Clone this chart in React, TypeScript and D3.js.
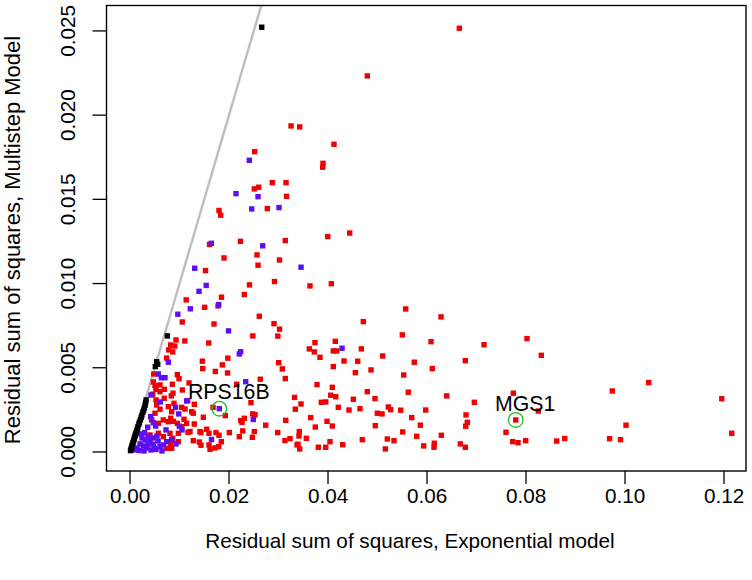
import React from "react";
import * as d3 from "d3";

// ---- data (x: RSS exponential model, y: RSS multistep model) ----
const redPoints: [number, number][] = [
  [0.06653,0.02516],[0.04794,0.02233],[0.03253,0.01936],[0.03428,0.0193],[0.04121,0.01827],[0.03899,0.01714],
  [0.03893,0.01691],[0.02875,0.01599],[0.03152,0.01599],[0.03162,0.01518],[0.02774,0.01445],[0.03137,0.01255],
  [0.03994,0.01279],[0.04438,0.013],[0.02519,0.01783],[0.02511,0.01562],[0.026,0.01572],[0.01798,0.01434],
  [0.01832,0.01406],[0.02232,0.01251],[0.01606,0.01232],[0.01899,0.01152],[0.02566,0.0117],[0.02586,0.01109],
  [0.0302,0.0114],[0.01525,0.01077],[0.02414,0.00992],[0.02919,0.01012],[0.01848,0.00919],[0.02309,0.00935],
  [0.01135,0.00903],[0.01509,0.00859],[0.01778,0.00867],[0.02612,0.00806],[0.01055,0.00772],[0.01697,0.0076],
  [0.02909,0.00762],[0.0302,0.00729],[0.02481,0.00689],[0.02986,0.00688],[0.00929,0.00665],[0.01107,0.00659],
  [0.00822,0.00635],[0.00903,0.00629],[0.0159,0.00647],[0.00782,0.00606],[0.00863,0.00594],[0.00741,0.00558],
  [0.01976,0.00557],[0.01461,0.00539],[0.01865,0.00517],[0.01469,0.00495],[0.01723,0.00478],[0.0197,0.00469],
  [0.00479,0.00463],[0.00956,0.00459],[0.0099,0.00435],[0.03077,0.00493],[0.03004,0.0053],[0.03137,0.00436],
  [0.00471,0.00416],[0.00505,0.00394],[0.00693,0.00372],[0.00855,0.00402],[0.01057,0.00368],[0.02632,0.00432],
  [0.00869,0.00349],[0.03323,0.00324],[0.00459,0.00343],[0.00525,0.00309],[0.00693,0.00319],[0.00834,0.00333],
  [0.00889,0.00289],[0.01166,0.00305],[0.01044,0.00265],[0.01299,0.00283],[0.01677,0.00265],[0.01925,0.00216],
  [0.02309,0.002],[0.02263,0.00176],[0.02236,0.00186],[0.02479,0.00226],[0.02525,0.00221],[0.02741,0.00159],
  [0.03145,0.00188],[0.03339,0.00254],[0.01091,0.00194],[0.00822,0.002],[0.00875,0.00182],[0.01172,0.00117],
  [0.01299,0.00166],[0.01414,0.00121],[0.01434,0.00115],[0.01549,0.00135],[0.01596,0.00111],[0.01737,0.00115],
  [0.01798,0.00099],[0.02006,0.00115],[0.02277,0.00125],[0.02511,0.00121],[0.02984,0.00115],[0.014,0.00059],
  [0.01279,0.00067],[0.01596,0.00042],[0.01616,0.00016],[0.01717,0.00024],[0.01792,0.00031],[0.01844,0.00061],
  [0.01434,0.0004],[0.00863,0.00081],[0.00822,0.00052],[0.03131,0.00068],[0.03232,0.00079],[0.0342,0.00121],
  [0.03414,0.00095],[0.02156,0.00402],[0.02444,0.00293],[0.01192,0.0041],[0.01111,0.00255],[0.01279,0.0023],
  [0.01481,0.00206],[0.02208,0.00091],[0.02471,0.00087],[0.00956,0.0017],[0.03374,0.00042],
  [0.03636,0.00986],[0.04067,0.00999],[0.0557,0.00849],[0.06283,0.00802],[0.04713,0.00774],[0.05501,0.00695],
  [0.06081,0.00655],[0.07152,0.00637],[0.03737,0.00649],[0.03622,0.00612],[0.03723,0.00594],[0.04147,0.00657],
  [0.04107,0.006],[0.04176,0.006],[0.04673,0.00612],[0.03838,0.00562],[0.04323,0.0054],[0.046,0.00539],
  [0.05105,0.0057],[0.05743,0.00533],[0.06774,0.00542],[0.04107,0.00507],[0.06107,0.00495],[0.04552,0.00471],
  [0.04869,0.00487],[0.05529,0.00457],[0.03778,0.004],[0.04087,0.00384],[0.04794,0.00358],[0.05622,0.00355],
  [0.06398,0.00333],[0.06956,0.00295],[0.07743,0.00349],[0.04055,0.00337],[0.04156,0.00328],[0.03865,0.00295],
  [0.03954,0.00297],[0.04511,0.00313],[0.04949,0.00317],[0.03455,0.00285],[0.04208,0.00265],[0.04424,0.00249],
  [0.04646,0.00257],[0.05218,0.00267],[0.05267,0.00251],[0.05469,0.00248],[0.05974,0.00249],[0.04996,0.0023],
  [0.05091,0.00226],[0.03651,0.00204],[0.0398,0.00182],[0.04087,0.00154],[0.03743,0.00148],[0.05691,0.00204],
  [0.06788,0.0022],[0.06814,0.00176],[0.06782,0.00153],[0.04956,0.00156],[0.05865,0.00159],[0.05509,0.00119],
  [0.06289,0.00099],[0.05792,0.00093],[0.07596,0.00117],[0.03562,0.00081],[0.03394,0.00046],[0.03428,0.00018],
  [0.03804,0.00028],[0.03954,0.00028],[0.0404,0.00061],[0.04297,0.00043],[0.04693,0.00073],[0.05198,0.00077],
  [0.05333,0.00067],[0.05158,0.00018],[0.05933,0.00036],[0.06147,0.00052],[0.06141,0.00028],[0.06673,0.00048],
  [0.06774,0.00028],[0.07731,0.00061],[0.07838,0.00055],[0.07994,0.00067],[0.0802,0.00673],[0.08309,0.00574],
  [0.08248,0.00243],[0.07792,0.0019],[0.0862,0.00065],[0.08782,0.0008],[0.09743,0.00362],[0.10479,0.00412],
  [0.1002,0.00159],[0.09687,0.00079],[0.09909,0.00073],[0.11954,0.00316],[0.12156,0.00111],
  [0.00606,0.00398],[0.00525,0.00372],[0.00606,0.00358],[0.00539,0.00279],[0.00505,0.0023],[0.00438,0.0019],
  [0.00572,0.0017],[0.00673,0.0019],[0.00774,0.0018],[0.00673,0.00091],[0.00572,0.00111],[0.00404,0.00101],
  [0.00976,0.00061],[0.00741,0.00022],[0.00842,0.00022],[0.01044,0.0015],[0.01145,0.0017],[0.01212,0.00121],
  [0.00976,0.00111],[0.00808,0.00111],[0.00774,0.00269],[0.00842,0.00239],[0.01246,0.00239],[0.00606,0.00254],
];

const purplePoints: [number, number][] = [
  [0.0241,0.01732],[0.02141,0.01534],[0.02586,0.01516],[0.02459,0.01443],[0.0301,0.01451],[0.01642,0.01239],
  [0.02681,0.01224],[0.03455,0.01097],[0.01307,0.01091],[0.01539,0.00989],[0.01394,0.00954],[0.01218,0.0085],
  [0.01792,0.00875],[0.00966,0.00818],[0.0199,0.00719],[0.04283,0.00616],[0.02208,0.00582],[0.02236,0.00595],
  [0.00774,0.00533],[0.00572,0.00463],[0.00632,0.00441],[0.00707,0.00441],[0.02337,0.00417],[0.00424,0.00338],
  [0.00612,0.00297],[0.01145,0.00303],[0.00919,0.00265],[0.01804,0.00257],[0.02491,0.00193],[0.00984,0.00226],
  [0.00996,0.00153],[0.01051,0.00131],[0.01646,0.00074],[0.00929,0.00048],[0.00673,0.00042],[0.00491,0.00022],
  [0.00471,0.00046],[0.00418,0.0021],[0.00471,0.00174],[0.00519,0.00154],[0.00358,0.00147],[0.00297,0.00115],
  [0.00727,0.00131],[0.00842,0.00075],[0.00741,0.00061],[0.00242,0.00083],[0.00303,0.00071],[0.00364,0.00089],
  [0.00404,0.00065],[0.00202,0.00048],[0.00273,0.00036],[0.00343,0.00024],[0.00424,0.00012],[0.00525,0.00015],
  [0.00606,0.00033],[0.00141,0.00024],[0.00182,0.00009],[0.00283,0.00006],[0.00566,0.00065],[0.00111,0.00012],
  [0.00465,0.00083],[0.00374,0.00048],[0.00222,0.00107],[0.00646,0.00006],[0.00545,0.00095],
];

const blackPoints: [number, number][] = [
  [0.0001,0.00008],[0.0002,0.00016],[0.0003,0.00026],[0.0004,0.00036],[0.0005,0.00045],[0.0006,0.00055],
  [0.0007,0.00063],[0.0008,0.00074],[0.0009,0.00083],[0.001,0.00094],[0.0011,0.00104],[0.0012,0.00114],
  [0.00135,0.00126],[0.0015,0.00138],[0.0016,0.00151],[0.0018,0.00165],[0.0019,0.00177],[0.0021,0.00191],
  [0.00225,0.00205],[0.0024,0.00219],[0.0026,0.00236],[0.00275,0.00248],[0.0029,0.00262],[0.00305,0.00278],
  [0.00315,0.00293],[0.00325,0.00309],[0.00511,0.00507],[0.00539,0.00536],[0.0056,0.00521],[0.00754,0.00689],
  [0.02661,0.02522],
];

const labeledGenes = [
  { name: "RPS16B", x: 0.01804, y: 0.00257 },
  { name: "MGS1", x: 0.07792, y: 0.0019 },
];

const xTicks = [0, 0.02, 0.04, 0.06, 0.08, 0.1, 0.12];
const yTicks = [0, 0.005, 0.01, 0.015, 0.02, 0.025];
const xTitle = "Residual sum of squares, Exponential model";
const yTitle = "Residual sum of squares, Multistep Model";

// ---- layout ----
const W = 752, H = 580;
const box = { left: 106.5, right: 746, top: 5.5, bottom: 471 };
const FONT = "'Liberation Sans', Arial, Helvetica, sans-serif";
const FS = 20.7;

export default function App() {
  const x = d3.scaleLinear().domain([-0.00475, 0.12444]).range([box.left, box.right]);
  const y = d3.scaleLinear().domain([-0.00113, 0.02651]).range([box.bottom, box.top]);
  const sq = 5.4;
  const fmtX = d3.format(".2f");
  const fmtY = d3.format(".3f");
  const lineGen = d3.line<[number, number]>().x(d => x(d[0])).y(d => y(d[1]));
  const diag: [number, number][] = [[0, 0], [0.03, 0.03]];

  const squares = (pts: [number, number][], color: string, key: string) =>
    pts.map((p, i) => (
      <rect key={key + i} x={x(p[0]) - sq / 2} y={y(p[1]) - sq / 2} width={sq} height={sq} fill={color} />
    ));

  return (
    <svg width={W} height={H} style={{ position: "absolute", left: 0, top: 0, background: "#fff" }}
      fontFamily={FONT}>
      <defs>
        <clipPath id="plotclip">
          <rect x={box.left} y={box.top} width={box.right - box.left} height={box.bottom - box.top} />
        </clipPath>
      </defs>
      <rect x={0} y={0} width={W} height={H} fill="#fff" />
      <g clipPath="url(#plotclip)">
        <path d={lineGen(diag) || ""} stroke="#BEBEBE" strokeWidth={2.4} fill="none" />
        {squares(redPoints, "#F00000", "r")}
        {squares(purplePoints, "#5C0FF5", "p")}
        {squares(blackPoints, "#000", "b")}
        {labeledGenes.map(g => (
          <circle key={"c" + g.name} cx={x(g.x)} cy={y(g.y)} r={7.3} fill="none" stroke="#1FBF1F" strokeWidth={1.3} />
        ))}
      </g>
      {labeledGenes.map(g => (
        <text key={"t" + g.name} x={x(g.x) + 9.5} y={y(g.y) - 9.2} textAnchor="middle" fontSize={21.3} fill="#000">
          {g.name}
        </text>
      ))}
      <rect x={box.left} y={box.top} width={box.right - box.left} height={box.bottom - box.top}
        fill="none" stroke="#000" strokeWidth={1.4} />
      {xTicks.map(t => (
        <g key={"xt" + t}>
          <line x1={x(t)} x2={x(t)} y1={box.bottom} y2={box.bottom + 13} stroke="#000" strokeWidth={1.3} />
          <text x={x(t)} y={box.bottom + 32} textAnchor="middle" fontSize={FS}>{fmtX(t)}</text>
        </g>
      ))}
      {yTicks.map(t => (
        <g key={"yt" + t}>
          <line x1={box.left - 14} x2={box.left} y1={y(t)} y2={y(t)} stroke="#000" strokeWidth={1.3} />
          <text transform={`translate(${box.left - 32},${y(t)}) rotate(-90)`} textAnchor="middle" fontSize={FS}>
            {fmtY(t)}
          </text>
        </g>
      ))}
      <text x={410} y={box.bottom + 77} textAnchor="middle" fontSize={FS}>{xTitle}</text>
      <text transform={`translate(${box.left - 86.5},${240}) rotate(-90)`} textAnchor="middle" fontSize={22}>
        {yTitle}
      </text>
    </svg>
  );
}
